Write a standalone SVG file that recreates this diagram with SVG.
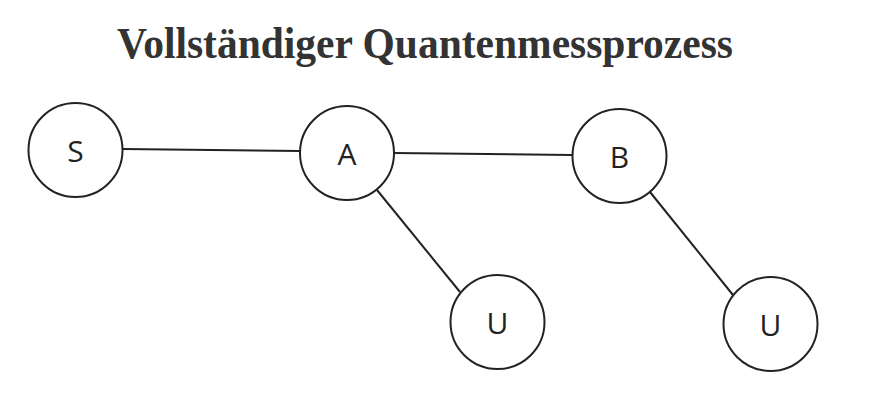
<svg xmlns="http://www.w3.org/2000/svg" width="874" height="412" viewBox="0 0 874 412">
<style>
.node circle{fill:#fff;stroke:#222;stroke-width:2}
.node text{font-family:"Open Sans","Liberation Sans",sans-serif;font-size:30px;fill:#222;text-anchor:middle;dominant-baseline:central}
.edge line{stroke:#222;stroke-width:2}
.title{font-family:"Liberation Serif","Times New Roman",serif;font-weight:bold;font-size:44px;fill:#333}
</style>
<rect width="874" height="412" fill="#fff"/>
<text class="title" x="117" y="58" textLength="616" lengthAdjust="spacingAndGlyphs">Vollständiger Quantenmessprozess</text>
<g id="edges" class="edge">
<line x1="123" y1="149" x2="300" y2="151"/>
<line x1="394" y1="153" x2="572" y2="155"/>
<line x1="377" y1="190" x2="460" y2="292"/>
<line x1="650" y1="192" x2="733" y2="295"/>
</g>
<g id="S" class="node"><circle cx="75.5" cy="150" r="47"/><text x="75.5" y="150">S</text></g>
<g id="A" class="node"><circle cx="347" cy="153" r="47"/><text x="347" y="153">A</text></g>
<g id="B" class="node"><circle cx="619.5" cy="156" r="47"/><text x="619.5" y="156">B</text></g>
<g id="U1" class="node"><circle cx="497.5" cy="322" r="47"/><text x="497.5" y="322">U</text></g>
<g id="U2" class="node"><circle cx="770.5" cy="324" r="47"/><text x="770.5" y="324">U</text></g>
</svg>
